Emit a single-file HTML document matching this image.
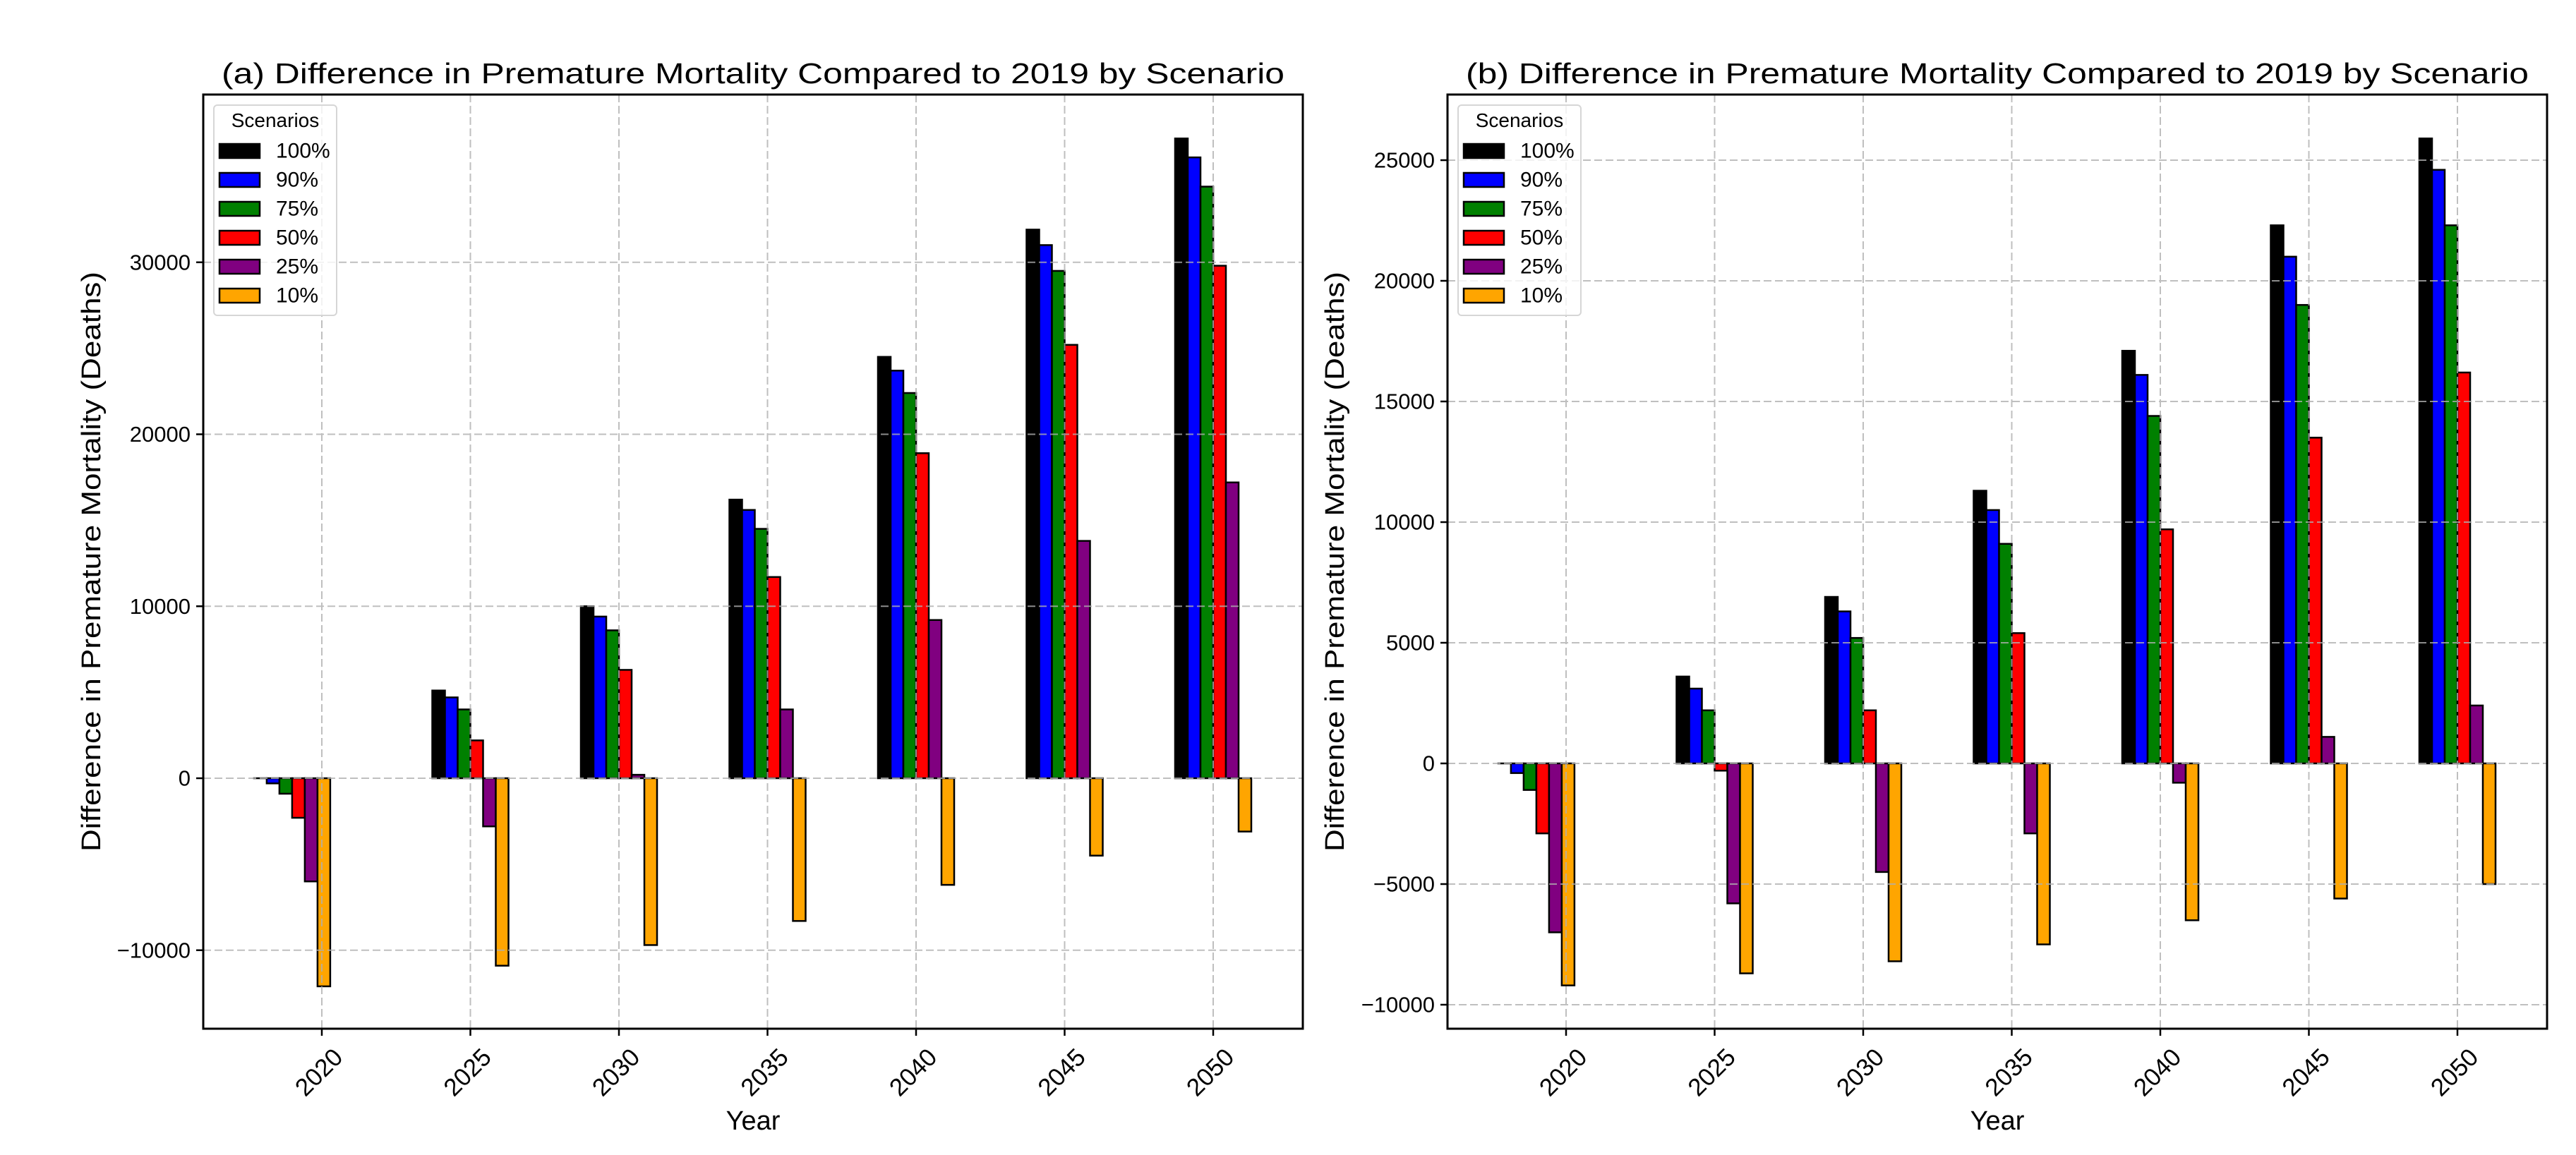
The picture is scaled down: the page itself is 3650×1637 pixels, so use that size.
<!DOCTYPE html>
<html><head><meta charset="utf-8"><style>
html,body{margin:0;padding:0;background:#fff}
svg{display:block;font-family:"Liberation Sans","DejaVu Sans",sans-serif}
</style></head><body>
<svg id="chart" width="3650" height="1637" viewBox="0 0 3650 1637" xmlns="http://www.w3.org/2000/svg">
<rect width="3650" height="1637" fill="#fff"/>
</svg>
<script>
const groupYears = [2019, 2025, 2030, 2035, 2040, 2045, 2050];
const tickYears = [2020, 2025, 2030, 2035, 2040, 2045, 2050];
const scenarios = ["100%", "90%", "75%", "50%", "25%", "10%"];
const colors = ["#000000", "#0000ff", "#008000", "#ff0000", "#800080", "#ffa500"];
// panel (a) series, one array per scenario, values per groupYears
const a100 = [0, 5100, 10000, 16200, 24500, 31900, 37200];
const a90 = [-300, 4700, 9400, 15600, 23700, 31000, 36100];
const a75 = [-900, 4000, 8600, 14500, 22400, 29500, 34400];
const a50 = [-2300, 2200, 6300, 11700, 18900, 25200, 29800];
const a25 = [-6000, -2800, 200, 4000, 9200, 13800, 17200];
const a10 = [-12100, -10900, -9700, -8300, -6200, -4500, -3100];
// panel (b)
const b100 = [0, 3600, 6900, 11300, 17100, 22300, 25900];
const b90 = [-400, 3100, 6300, 10500, 16100, 21000, 24600];
const b75 = [-1100, 2200, 5200, 9100, 14400, 19000, 22300];
const b50 = [-2900, -300, 2200, 5400, 9700, 13500, 16200];
const b25 = [-7000, -5800, -4500, -2900, -800, 1100, 2400];
const b10 = [-9200, -8700, -8200, -7500, -6500, -5600, -5000];
const aTicks = [-10000, 0, 10000, 20000, 30000];
const bTicks = [-10000, -5000, 0, 5000, 10000, 15000, 20000, 25000];

const NS = "http://www.w3.org/2000/svg";
const svg = document.getElementById("chart");
function mk(tag, attrs, parent) {
  const e = document.createElementNS(NS, tag);
  for (const k in attrs) e.setAttribute(k, attrs[k]);
  (parent || svg).appendChild(e);
  return e;
}

function panel(cfg) {
  const g = mk("g", {});
  
  
  const L = cfg.left, R = cfg.right, T = 134, B = 1458;
  const xPerYear = 210.5 / 5;
  const xs = yr => cfg.x2020 + (yr - 2020) * xPerYear;
  const ys = v => cfg.zero - v * cfg.pxPer;
  const bw = 18;
  const bars = mk("g", {}, g);
  
  
  cfg.series.forEach((ser, si) => {
    ser.forEach((v, gi) => {
      const cx = xs(groupYears[gi]) + (si - 2.5) * bw;
      const y0 = ys(0), y1 = ys(v);
      const r = mk("rect", {x: cx - bw / 2, y: Math.min(y0, y1), width: bw, height: Math.max(Math.abs(y1 - y0), 0.01),
        fill: colors[si], stroke: "#000", "stroke-width": 2.5}, bars);
      
      
    });
  });
  const grid = mk("g", {stroke: "#b0b0b0", "stroke-width": 2, "stroke-dasharray": "11,5", opacity: 0.8}, g);
  
  
  cfg.ticks.forEach(t => { mk("line", {x1: L, x2: R, y1: ys(t), y2: ys(t)}, grid); });
  tickYears.forEach(yr => { mk("line", {x1: xs(yr), x2: xs(yr), y1: T, y2: B}, grid); });
  const fr = mk("rect", {x: L, y: T, width: R - L, height: B - T, fill: "none", stroke: "#000", "stroke-width": 3}, g);
  
  
  cfg.ticks.forEach(t => {
    mk("line", {x1: L - 10, x2: L, y1: ys(t), y2: ys(t), stroke: "#000", "stroke-width": 2.5}, g);
    const tx = mk("text", {x: L - 18, y: ys(t), "text-anchor": "end", "dominant-baseline": "central", "font-size": 31, fill: "#000"}, g);
    
    
    tx.textContent = t < 0 ? "\u2212" + Math.abs(t) : String(t);
  });
  tickYears.forEach(yr => {
    mk("line", {x1: xs(yr), x2: xs(yr), y1: B, y2: B + 10, stroke: "#000", "stroke-width": 2.5}, g);
    const cx = xs(yr) - 4, cy = 1520;
    const tx = mk("text", {x: cx, y: cy, "text-anchor": "middle", "dominant-baseline": "central", "font-size": 35, fill: "#000", transform: `rotate(-45 ${cx} ${cy})`}, g);
    
    
    tx.textContent = yr;
  });
  const ti = mk("text", {x: (L + R) / 2, y: 118, "text-anchor": "middle", "font-size": 41, fill: "#000", textLength: 1506, lengthAdjust: "spacingAndGlyphs"}, g);
  
  
  ti.textContent = cfg.title;
  const xl = mk("text", {x: (L + R) / 2, y: 1601, "text-anchor": "middle", "font-size": 38, fill: "#000"}, g);
  
  
  xl.textContent = "Year";
  const ylx = cfg.ylabelX, yly = 796;
  const yl = mk("text", {x: ylx, y: yly, "text-anchor": "middle", "dominant-baseline": "central", "font-size": 38, fill: "#000", transform: `rotate(-90 ${ylx} ${yly})`, textLength: 822, lengthAdjust: "spacingAndGlyphs"}, g);
  
  
  yl.textContent = "Difference in Premature Mortality (Deaths)";
  const lg = mk("g", {}, g);
  
  
  const lx = L + 15;
  mk("rect", {x: lx, y: 149, width: 174, height: 298, rx: 5, fill: "#fff", "fill-opacity": 0.8, stroke: "#d6d6d6", "stroke-width": 2}, lg);
  const lt = mk("text", {x: lx + 87, y: 180, "text-anchor": "middle", "font-size": 28, fill: "#000"}, lg);
  
  
  lt.textContent = "Scenarios";
  scenarios.forEach((s, i) => {
    const cy = 214 + i * 41;
    const e = mk("g", {}, lg);
    
    
    mk("rect", {x: lx + 8, y: cy - 10, width: 57, height: 20, fill: colors[i], stroke: "#000", "stroke-width": 2.5}, e);
    const t = mk("text", {x: lx + 88, y: cy, "dominant-baseline": "central", "font-size": 30, fill: "#000"}, e);
    t.textContent = s;
  });
}

panel({id: "a", left: 288, right: 1846, x2020: 456, zero: 1103, pxPer: 243.75 / 10000, ticks: aTicks,
  series: [a100, a90, a75, a50, a25, a10], ylabelX: 130,
  title: "(a) Difference in Premature Mortality Compared to 2019 by Scenario"});
panel({id: "b", left: 2051, right: 3609, x2020: 2219, zero: 1082, pxPer: 171 / 5000, ticks: bTicks,
  series: [b100, b90, b75, b50, b25, b10], ylabelX: 1892,
  title: "(b) Difference in Premature Mortality Compared to 2019 by Scenario"});
</script>
</body></html>
